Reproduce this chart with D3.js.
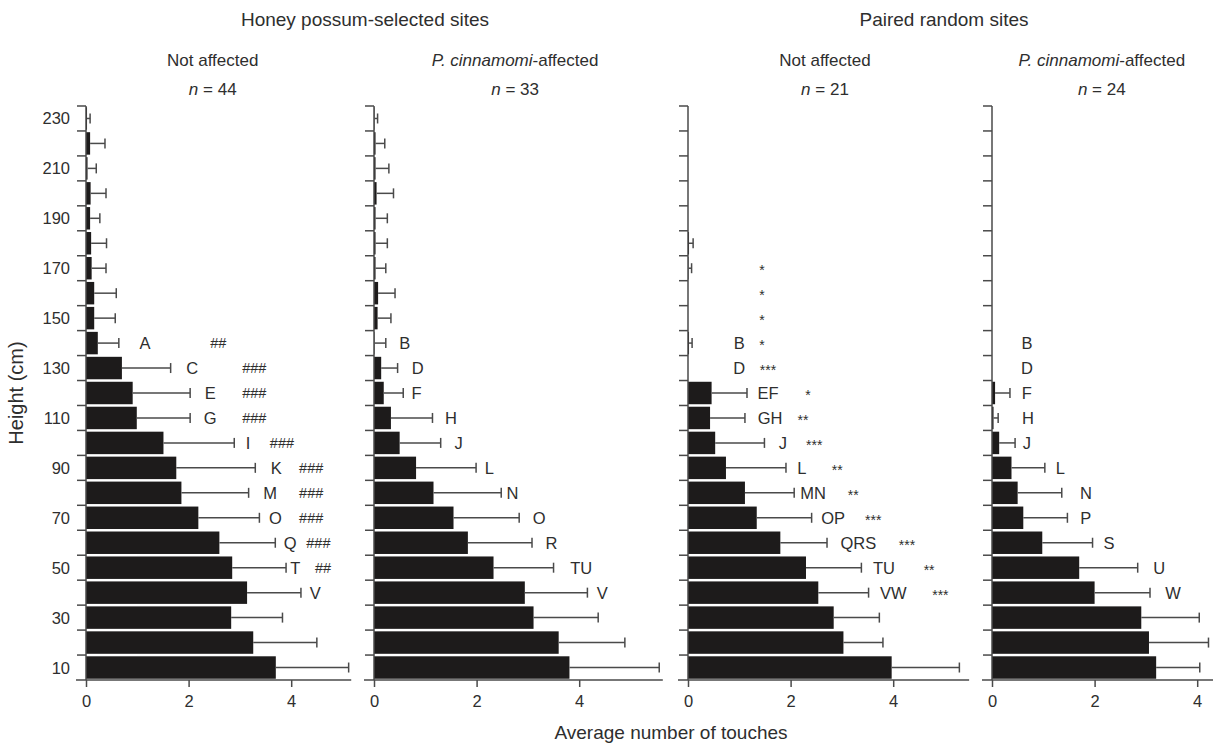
<!DOCTYPE html>
<html><head><meta charset="utf-8">
<script src="https://cdn.jsdelivr.net/npm/d3@7"></script>
<style>
html,body{margin:0;padding:0;background:#fff;}
svg{display:block;font-family:"Liberation Sans",Arial,Helvetica,sans-serif;}
</style></head>
<body>
<svg id="chart" width="1213" height="745"></svg>
<script>
// ---------- DATA ----------
const heights = [230,220,210,200,190,180,170,160,150,140,130,120,110,100,90,80,70,60,50,40,30,20,10];
const heightTickLabels = [230,210,190,170,150,130,110,90,70,50,30,10];
const xTickValues = [0,2,4];

const groupTitles = ["Honey possum-selected sites", "Paired random sites"];
const panelTitles = ["Not affected", "P. cinnamomi-affected", "Not affected", "P. cinnamomi-affected"];
const panelN = [44, 33, 21, 24];

// mean number of touches (230 cm -> 10 cm)
const hsNotAffected   = [0.02,0.08,0.03,0.09,0.08,0.10,0.11,0.16,0.16,0.23,0.70,0.91,0.99,1.51,1.76,1.86,2.19,2.60,2.85,3.14,2.83,3.26,3.70];
const hsNotAffectedSE = [0.06,0.29,0.17,0.30,0.19,0.30,0.28,0.43,0.41,0.41,0.95,1.12,1.04,1.38,1.54,1.31,1.19,1.09,1.05,1.05,1.00,1.24,1.42];
const hsAffected      = [0.01,0.03,0.03,0.05,0.03,0.03,0.03,0.08,0.07,0.01,0.14,0.19,0.33,0.50,0.82,1.16,1.55,1.83,2.33,2.94,3.11,3.60,3.81];
const hsAffectedSE    = [0.06,0.18,0.26,0.33,0.23,0.23,0.20,0.33,0.26,0.22,0.32,0.38,0.81,0.80,1.17,1.32,1.28,1.25,1.17,1.22,1.26,1.29,1.75];
const rdNotAffected   = [0,0,0,0,0,0.02,0.01,0,0,0.02,0,0.46,0.43,0.53,0.74,1.11,1.34,1.80,2.30,2.54,2.84,3.03,3.97];
const rdNotAffectedSE = [0,0,0,0,0,0.08,0.06,0,0,0.06,0,0.69,0.68,0.96,1.17,0.96,1.07,0.91,1.08,0.98,0.89,0.77,1.32];
const rdAffected      = [0,0,0,0,0,0,0,0,0,0,0,0.06,0.03,0.14,0.38,0.50,0.61,0.98,1.70,2.00,2.91,3.06,3.20];
const rdAffectedSE    = [0,0,0,0,0,0,0,0,0,0,0,0.29,0.09,0.31,0.65,0.86,0.86,0.98,1.14,1.08,1.13,1.16,0.85];

// significance letters: [height, text, anchor (in touches)]
const hsNotAffectedLetters = [[140,"A",1.15],[130,"C",2.07],[120,"E",2.42],[110,"G",2.42],[100,"I",3.16],[90,"K",3.71],[80,"M",3.59],[70,"O",3.69],[60,"Q",3.98],[50,"T",4.08],[40,"V",4.47]];
const hsNotAffectedMarks   = [[140,"##",2.58],[130,"###",3.28],[120,"###",3.28],[110,"###",3.28],[100,"###",3.82],[90,"###",4.39],[80,"###",4.39],[70,"###",4.39],[60,"###",4.53],[50,"##",4.62]];
const hsAffectedLetters    = [[140,"B",0.60],[130,"D",0.85],[120,"F",0.83],[110,"H",1.50],[100,"J",1.65],[90,"L",2.25],[80,"N",2.70],[70,"O",3.22],[60,"R",3.46],[50,"TU",4.04],[40,"V",4.45]];
const hsAffectedMarks      = [];
const rdNotAffectedLetters = [[140,"B",1.0],[130,"D",1.0],[120,"EF",1.56],[110,"GH",1.60],[100,"J",1.85],[90,"L",2.22],[80,"MN",2.44],[70,"OP",2.83],[60,"QRS",3.32],[50,"TU",3.82],[40,"VW",4.0]];
const rdNotAffectedMarks   = [[170,"*",1.44],[160,"*",1.44],[150,"*",1.44],[140,"*",1.44],[130,"***",1.56],[120,"*",2.34],[110,"**",2.24],[100,"***",2.46],[90,"**",2.91],[80,"**",3.22],[70,"***",3.61],[60,"***",4.27],[50,"**",4.70],[40,"***",4.92]];
const rdAffectedLetters    = [[140,"B",0.68],[130,"D",0.68],[120,"F",0.68],[110,"H",0.70],[100,"J",0.68],[90,"L",1.33],[80,"N",1.83],[70,"P",1.83],[60,"S",2.28],[50,"U",3.26],[40,"W",3.53]];
const rdAffectedMarks      = [];

const axisLabelX = "Average number of touches";
const axisLabelY = "Height (cm)";

// ---------- LAYOUT ----------
const svg = d3.select("#chart");
const ink = "#2e2e2e", axisCol = "#4a4a4a", barCol = "#1d1b1b";
const plotTop = 106, plotBottom = 680;
const panelLeft = [86, 374, 688, 992];
const unitPx = 51.3;
const axisEnd = [5.17, 5.63, 5.48, 4.5];
const titleCenters = [2.47, 2.75, 2.67, 2.14];

const panels = [
  {mean: hsNotAffected, se: hsNotAffectedSE, letters: hsNotAffectedLetters, marks: hsNotAffectedMarks, italic:false},
  {mean: hsAffected, se: hsAffectedSE, letters: hsAffectedLetters, marks: hsAffectedMarks, italic:true},
  {mean: rdNotAffected, se: rdNotAffectedSE, letters: rdNotAffectedLetters, marks: rdNotAffectedMarks, italic:false},
  {mean: rdAffected, se: rdAffectedSE, letters: rdAffectedLetters, marks: rdAffectedMarks, italic:true}
];

const y = d3.scaleBand().domain(heights).range([plotTop, plotBottom]).paddingInner(0.1).paddingOuter(0.05);
const yb = d3.scaleBand().domain(heights).range([plotTop, plotBottom]);

panels.forEach((p, i) => {
  const x0 = panelLeft[i];
  const x = d3.scaleLinear().domain([0, 4]).range([x0, x0 + 4 * unitPx]);
  const g = svg.append("g");
  const rows = heights.map((h, j) => ({h, v: p.mean[j], e: p.se[j]}));

  // bars
  g.selectAll("rect.bar").data(rows)
    .join("rect").attr("class","bar")
    .attr("x", x(0)).attr("y", d => y(d.h))
    .attr("width", d => Math.max(0, x(d.v) - x(0)))
    .attr("height", y.bandwidth())
    .attr("fill", barCol);

  // error bars
  const eb = rows.filter(d => d.e > 0);
  g.selectAll("line.err").data(eb).join("line").attr("class","err")
    .attr("x1", d => x(d.v)).attr("x2", d => x(d.v + d.e))
    .attr("y1", d => yb(d.h) + yb.bandwidth()/2).attr("y2", d => yb(d.h) + yb.bandwidth()/2)
    .attr("stroke", axisCol).attr("stroke-width", 1.5);
  g.selectAll("line.cap").data(eb).join("line").attr("class","cap")
    .attr("x1", d => x(d.v + d.e)).attr("x2", d => x(d.v + d.e))
    .attr("y1", d => yb(d.h) + yb.bandwidth()/2 - 5).attr("y2", d => yb(d.h) + yb.bandwidth()/2 + 5)
    .attr("stroke", axisCol).attr("stroke-width", 1.5);

  // y axis line + ticks at band boundaries
  g.append("line").attr("x1", x0).attr("x2", x0).attr("y1", plotTop).attr("y2", plotBottom)
    .attr("stroke", axisCol).attr("stroke-width", 1.5);
  g.selectAll("line.yt").data(heights).join("line").attr("class","yt")
    .attr("x1", x0 - 9).attr("x2", x0).attr("y1", d => yb(d)).attr("y2", d => yb(d))
    .attr("stroke", axisCol).attr("stroke-width", 1.5);

  // x axis
  const xa = g.append("g").attr("transform", `translate(0,${plotBottom})`)
    .call(d3.axisBottom(x).tickValues(xTickValues).tickSize(7).tickPadding(8).tickFormat(d3.format("d")));
  xa.select(".domain").attr("d", `M${x0 - 10},0H${x(axisEnd[i])}`).attr("stroke", axisCol).attr("stroke-width", 1.5);
  xa.selectAll(".tick line").attr("stroke", axisCol).attr("stroke-width", 1.5);
  xa.selectAll(".tick text").attr("fill", ink).attr("font-size", 16.5).attr("font-family", "Liberation Sans, Arial, sans-serif");

  // y labels (first panel only)
  if (i === 0) {
    g.selectAll("text.yl").data(heightTickLabels).join("text").attr("class","yl")
      .attr("x", x0 - 16).attr("y", d => yb(d) + yb.bandwidth()/2)
      .attr("text-anchor","end").attr("dominant-baseline","central")
      .attr("font-size", 16.5).attr("fill", ink).text(d => d);
  }

  // letters and marks
  g.selectAll("text.let").data(p.letters).join("text").attr("class","let")
    .attr("x", d => x(d[2])).attr("y", d => yb(d[0]) + yb.bandwidth()/2)
    .attr("text-anchor","middle").attr("dominant-baseline","central")
    .attr("font-size", 16.5).attr("fill", ink).text(d => d[1]);
  g.selectAll("text.mk").data(p.marks).join("text").attr("class","mk")
    .attr("x", d => x(d[2])).attr("y", d => yb(d[0]) + yb.bandwidth()/2 + (d[1][0] === "#" ? 0 : 2))
    .attr("text-anchor","middle").attr("dominant-baseline","central")
    .attr("font-size", d => d[1][0] === "#" ? 14.5 : 14).attr("fill", ink)
    .text(d => d[1]);

  // panel titles
  const tx = x0 + titleCenters[i] * unitPx;
  const t = g.append("text").attr("x", tx).attr("y", 66).attr("text-anchor","middle")
    .attr("font-size", 17).attr("fill", ink);
  if (p.italic) {
    t.append("tspan").attr("font-style","italic").text("P. cinnamomi");
    t.append("tspan").text("-affected");
  } else t.text(panelTitles[i]);
  const n = g.append("text").attr("x", tx).attr("y", 95).attr("text-anchor","middle")
    .attr("font-size", 17).attr("fill", ink);
  n.append("tspan").attr("font-style","italic").text("n");
  n.append("tspan").text(" = " + panelN[i]);
});

// group titles
svg.append("text").attr("x", 365).attr("y", 26).attr("text-anchor","middle")
  .attr("font-size", 19).attr("fill", ink).text(groupTitles[0]);
svg.append("text").attr("x", 944).attr("y", 26).attr("text-anchor","middle")
  .attr("font-size", 19).attr("fill", ink).text(groupTitles[1]);

// axis titles
svg.append("text").attr("x", 671).attr("y", 739).attr("text-anchor","middle")
  .attr("font-size", 19).attr("fill", ink).text(axisLabelX);
svg.append("text").attr("transform", "translate(16,393) rotate(-90)").attr("text-anchor","middle")
  .attr("dominant-baseline","central").attr("font-size", 20).attr("fill", ink).text(axisLabelY);
</script>
</body></html>
